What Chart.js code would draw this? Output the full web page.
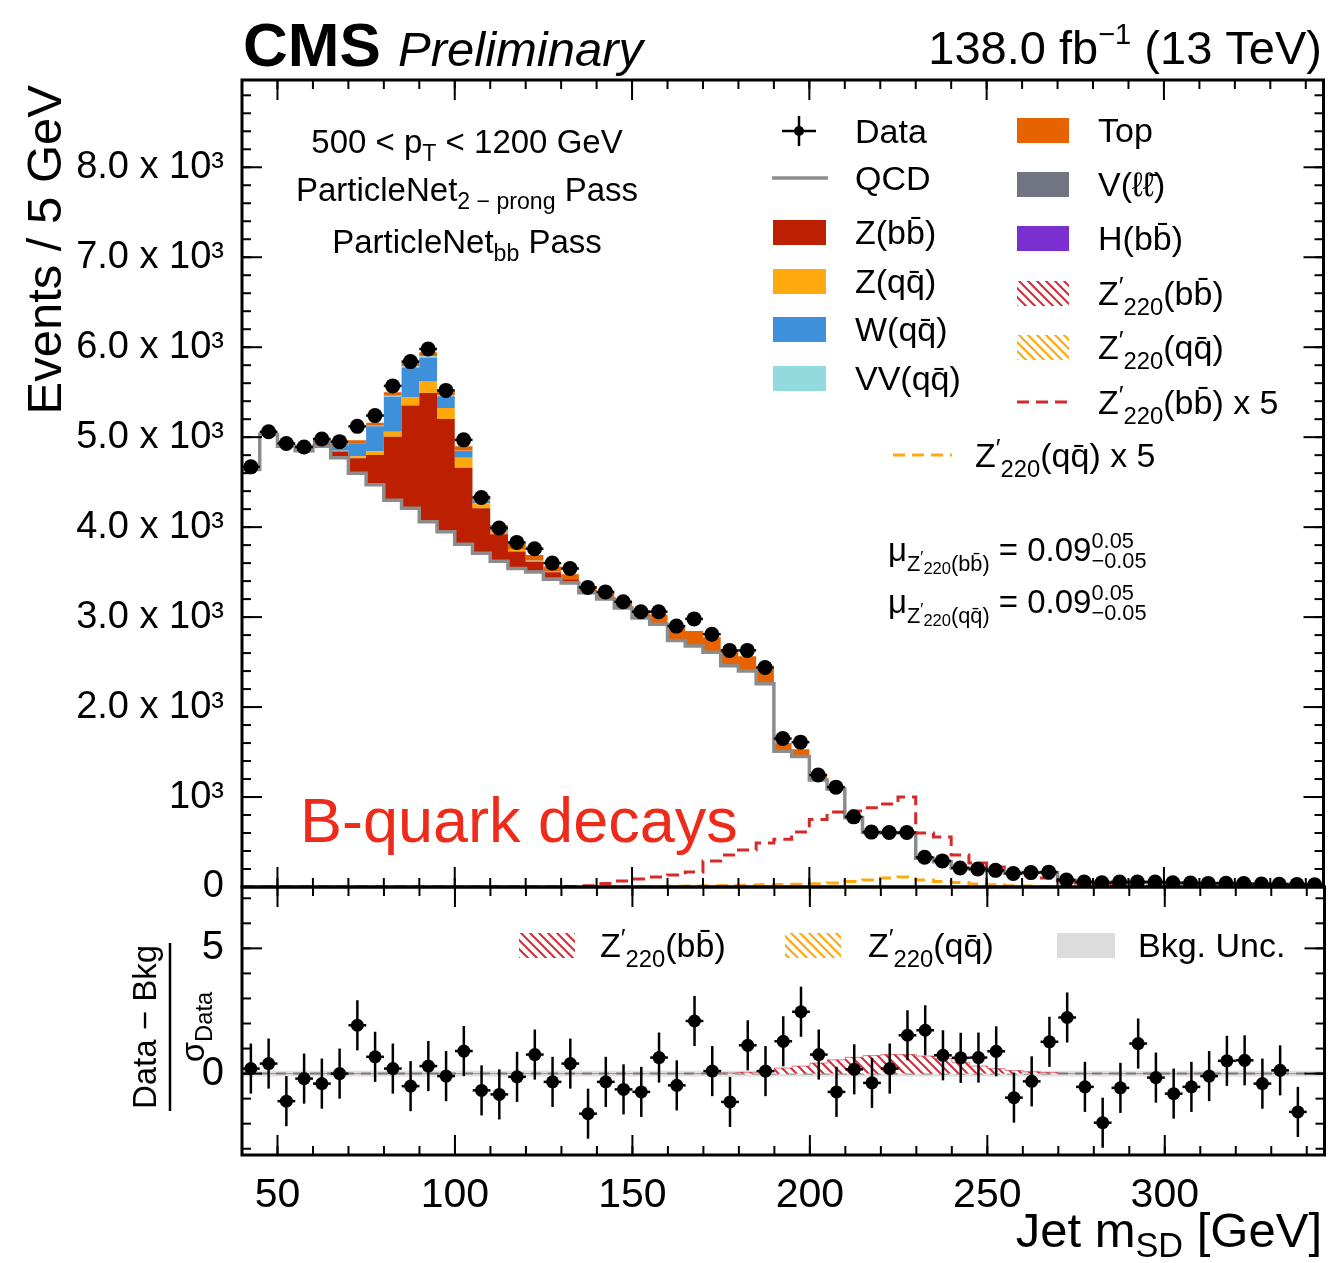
<!DOCTYPE html>
<html><head><meta charset="utf-8">
<script src="https://cdn.jsdelivr.net/npm/chart.js@4.4.1/dist/chart.umd.min.js"></script>
<style>
html,body{margin:0;padding:0;background:#fff;}
#wrap{position:relative;width:1331px;height:1263px;overflow:hidden;background:#fff;}
canvas{position:absolute;left:0;}
#main{top:0;width:1331px;height:920px;}
#ratio{top:880px;width:1331px;height:383px;}
</style></head><body>
<div id="wrap"><canvas id="main" width="1331" height="920"></canvas><canvas id="ratio" width="1331" height="383"></canvas></div>
<script>
// ---------------- DATA ----------------
const BIN = 5;
const binLow = [40,45,50,55,60,65,70,75,80,85,90,95,100,105,110,115,120,125,130,135,140,145,150,155,160,165,170,175,180,185,190,195,200,205,210,215,220,225,230,235,240,245,250,255,260,265,270,275,280,285,290,295,300,305,310,315,320,325,330,335,340];
const dataCounts = [4670,5060,4930,4890,4980,4950,5120,5240,5570,5840, 5980,5520,4970,4330,3990,3830,3760,3600,3540,3330, 3280,3170,3060,3060,2900,2980,2810,2630,2630,2440, 1650,1610,1245,1110,780,610,605,605,330,290, 211,200,185,150,160,165,78,56,46,55, 56,55,46,44,40,42,38,33,31,27, 24];
const qcd = [4640,5030,4900,4850,4900,4770,4600,4470,4300,4210, 4060,3950,3810,3710,3620,3540,3500,3420,3380,3270, 3200,3100,2990,2920,2740,2680,2610,2460,2400,2260, 1510,1450,1190,1090,770,605,600,600,320,280, 212,200,185,155,160,160,75,57,52,52, 53,52,46,45,41,40,36,35,31,29, 26];
const vll = [0,0,0,0,0,0,0,0,5,8, 10,8,5,0,0,0,0,0,0,0, 0,0,0,0,0,0,0,0,0,0, 0,0,0,0,0,0,0,0,0,0, 0,0,0,0,0,0,0,0,0,0, 0,0,0,0,0,0,0,0,0,0, 0];
const hbb = [0,0,0,0,0,0,0,0,0,0, 0,0,0,0,0,8,15,18,12,6, 0,0,0,0,0,0,0,0,0,0, 0,0,0,0,0,0,0,0,0,0, 0,0,0,0,0,0,0,0,0,0, 0,0,0,0,0,0,0,0,0,0, 0];
const zbb = [0,0,5,10,20,70,167,333,700,1133, 1422,1244,844,500,300,180,100,60,30,15, 8,5,0,0,0,0,0,0,0,0, 0,0,0,0,0,0,0,0,0,0, 0,0,0,0,0,0,0,0,0,0, 0,0,0,0,0,0,0,0,0,0, 0];
const zqq = [0,0,0,0,5,10,20,40,55,90, 133,122,111,55,30,20,10,5,0,0, 0,0,0,0,0,0,0,0,0,0, 0,0,0,0,0,0,0,0,0,0, 0,0,0,0,0,0,0,0,0,0, 0,0,0,0,0,0,0,0,0,0, 0];
const wqq = [0,0,0,10,20,55,145,278,390,333, 260,130,75,30,15,10,5,0,0,0, 0,0,0,0,0,0,0,0,0,0, 0,0,0,0,0,0,0,0,0,0, 0,0,0,0,0,0,0,0,0,0, 0,0,0,0,0,0,0,0,0,0, 0];
const vvqq = [0,0,0,0,0,0,0,5,10,15, 15,10,5,0,0,0,0,0,0,0, 0,0,0,0,0,0,0,0,0,0, 0,0,0,0,0,0,0,0,0,0, 0,0,0,0,0,0,0,0,0,0, 0,0,0,0,0,0,0,0,0,0, 0];
const topq = [20,20,22,22,25,30,35,35,40,40, 45,50,50,55,60,60,60,60,55,55, 60,70,90,110,160,165,165,160,165,165, 90,80,50,30,20,15,12,10,8,6, 5,4,3,3,2,2,2,1,1,1, 1,1,1,1,1,1,1,1,1,1, 1];
const sigBBx5 = [0,0,0,0,0,0,0,0,0,0, 0,0,0,0,0,0,0,0,5,15, 40,67,89,111,133,167,289,356,410,489, 530,611,750,833,845,880,922,1000,600,556, 356,267,222,167,130,100,70,45,30,20, 12,8,5,4,3,3,2,2,1,1, 1];
const sigQQx5 = [0,0,0,0,0,0,0,0,0,0, 0,0,0,0,0,0,0,0,0,0, 3,4,5,6,8,10,13,16,20,25, 28,30,35,44,60,78,100,111,78,60, 50,33,25,15,10,6,4,3,2,1, 1,1,1,1,1,1,1,1,1,1, 1];
const pulls = [0.2,0.4,-1.1,-0.2,-0.4,0.0,1.93,0.67,0.2,-0.5, 0.3,-0.1,0.9,-0.67,-0.83,-0.13,0.76,-0.33,0.4,-1.6, -0.33,-0.63,-0.73,0.64,-0.47,2.1,0.1,-1.13,1.13,0.1, 1.29,2.47,0.76,-0.73,0.17,-0.37,0.2,1.53,1.73,0.73, 0.63,0.64,0.89,-0.96,-0.31,1.27,2.24,-0.53,-1.96,-0.57, 1.2,-0.16,-0.8,-0.53,-0.1,0.51,0.53,-0.4,0.13,-1.53, null];
const ratioSigBB = [0,0,0,0,0,0,0,0,0,0, 0,0,0,0,0,0,0,0,0,0, 0,0,0,0,0,0,0,0.02,0.05,0.1, 0.22,0.3,0.42,0.55,0.65,0.72,0.76,0.76,0.7,0.6, 0.45,0.3,0.2,0.12,0.07,0.04,0,0,0,0, 0,0,0,0,0,0,0,0,0,0, 0];
const mainYTicks = [0,1000,2000,3000,4000,5000,6000,7000,8000];
const ratioYTicks = [0,5];
const xTickLabels = [50,100,150,200,250,300];

// ---------------- HELPERS ----------------
const FF = "'Liberation Sans', Arial, Helvetica, sans-serif";
const C = {qcd:'#8c8c8c', zbb:'#bd1f01', zqq:'#ffa90e', wqq:'#3f90da', vv:'#92dadd', top:'#e76300', vll:'#717581', hbb:'#7b2fd0', sigbb:'#d42a2a', sigqq:'#ffa90e'};
function steps(vals){ const pts = binLow.map((x,i)=>({x:x, y:vals[i]})); pts.push({x:binLow[binLow.length-1]+BIN, y:vals[vals.length-1]}); return pts; }
function centers(vals){ const out=[]; binLow.forEach((x,i)=>{ if(vals[i]!==null && vals[i]!==undefined) out.push({x:x+BIN/2, y:vals[i]}); }); return out; }
function font(size, style){ return (style?style+' ':'') + size + 'px ' + FF; }
function measureParts(ctx, parts, base){
  let w=0;
  for(const p of parts){
    if(p.stack){ let m=0; for(const s of p.stack){ ctx.font=font(base*(s.k||1), s.style); m=Math.max(m, ctx.measureText(s.t).width);} w+=m; }
    else { ctx.font=font(base*(p.k||1), p.style); w+=ctx.measureText(p.t).width; }
    w += p.gap||0;
  }
  return w;
}
function drawRich(ctx, x, y, parts, base, align, color){
  ctx.save(); ctx.fillStyle=color||'#000'; ctx.textBaseline='alphabetic'; ctx.textAlign='left';
  const w=measureParts(ctx, parts, base);
  if(align==='right') x-=w; else if(align==='center') x-=w/2;
  for(const p of parts){
    if(p.stack){ let m=0; for(const s of p.stack){ ctx.font=font(base*(s.k||1), s.style); ctx.fillText(s.t, x, y+(s.dy||0)*base); m=Math.max(m, ctx.measureText(s.t).width);} x+=m; }
    else { ctx.font=font(base*(p.k||1), p.style); ctx.fillText(p.t, x, y+(p.dy||0)*base); x+=ctx.measureText(p.t).width; }
    x += p.gap||0;
  }
  ctx.restore(); return w;
}
const zp = tail => [{t:'Z'},{t:'′',k:0.75,dy:-0.3},{t:'220',k:0.7,dy:0.28},{t:tail}];
function makeHatch(color, lw){
  const c=document.createElement('canvas'); c.width=c.height=9; const g=c.getContext('2d');
  g.fillStyle='#fff'; g.fillRect(0,0,9,9);
  g.strokeStyle=color; g.lineWidth=lw||2;
  g.beginPath(); g.moveTo(-1,-1); g.lineTo(10,10); g.moveTo(-5,4); g.lineTo(5,14); g.moveTo(4,-5); g.lineTo(14,5); g.stroke();
  return document.createElement('canvas').getContext('2d').createPattern(c,'repeat');
}
const hatchRed = makeHatch('#d42a3a', 2);
const hatchOrange = makeHatch('#ffa90e', 2.2);
function line(ctx,x1,y1,x2,y2){ ctx.beginPath(); ctx.moveTo(x1,y1); ctx.lineTo(x2,y2); ctx.stroke(); }

// frame + inward ticks
const frameTicks = { id:'frameTicks', afterDraw(chart, args, o){
  const ctx=chart.ctx, a=chart.chartArea, xs=chart.scales.x, ys=chart.scales.y;
  ctx.save(); ctx.strokeStyle='#000'; ctx.lineWidth=2;
  function ticksX(step, len){ for(let k=Math.ceil(xs.min/step); k*step<=xs.max; k++){ const p=xs.getPixelForValue(k*step); if(p<=a.left+2||p>=a.right-2) continue; line(ctx,p,a.bottom,p,a.bottom-len); line(ctx,p,a.top,p,a.top+len);} }
  function ticksY(step, len){ for(let k=Math.ceil(ys.min/step); k*step<=ys.max; k++){ const p=ys.getPixelForValue(k*step); if(p<=a.top+2||p>=a.bottom-2) continue; line(ctx,a.left,p,a.left+len,p); line(ctx,a.right,p,a.right-len,p);} }
  ticksX(o.xMin, 9); ticksX(o.xMaj, 20); ticksY(o.yMin, 9); ticksY(o.yMaj, 20);
  ctx.lineWidth=3; ctx.strokeRect(a.left, a.top, a.right-a.left, a.bottom-a.top);
  ctx.restore();
}};
// error bars
const errBars = { id:'errBars', afterDatasetsDraw(chart){
  const ctx=chart.ctx, xs=chart.scales.x, ys=chart.scales.y;
  chart.data.datasets.forEach(ds=>{
    if(!ds.errMode) return;
    ctx.save(); ctx.strokeStyle='#000'; ctx.lineWidth=2.5;
    ds.data.forEach(p=>{
      const e = ds.errMode==='poisson' ? Math.sqrt(p.y) : 1;
      const px=xs.getPixelForValue(p.x), py=ys.getPixelForValue(p.y);
      line(ctx, px, ys.getPixelForValue(p.y-e), px, ys.getPixelForValue(p.y+e));
      line(ctx, xs.getPixelForValue(p.x-BIN/2), py, xs.getPixelForValue(p.x+BIN/2), py);
    });
    ctx.restore();
  });
}};
const yAfterFit = s => { s.width=242; s.paddingTop=0; s.paddingBottom=0; };

// ---------------- MAIN PANEL ----------------
const decorA = { id:'decorA', afterDraw(chart){
  const ctx=chart.ctx;
  drawRich(ctx, 243, 66, [{t:'CMS', style:'bold'}], 62);
  drawRich(ctx, 398, 66, [{t:'Preliminary', style:'italic'}], 49);
  drawRich(ctx, 1322, 64, [{t:'138.0 fb'},{t:'−1',k:0.62,dy:-0.42},{t:' (13 TeV)'}], 47, 'right');
  ctx.save(); ctx.translate(61, 85); ctx.rotate(-Math.PI/2); drawRich(ctx, 0, 0, [{t:'Events / 5 GeV'}], 49, 'right'); ctx.restore();
  drawRich(ctx, 467, 153, [{t:'500 < p'},{t:'T',k:0.7,dy:0.25},{t:' < 1200 GeV'}], 33, 'center');
  drawRich(ctx, 467, 201, [{t:'ParticleNet'},{t:'2 − prong',k:0.7,dy:0.25},{t:' Pass'}], 33, 'center');
  drawRich(ctx, 467, 253, [{t:'ParticleNet'},{t:'bb',k:0.7,dy:0.25},{t:' Pass'}], 33, 'center');
  // legend
  ctx.save();
  ctx.strokeStyle='#000'; ctx.lineWidth=2.5; line(ctx,799,116,799,146); line(ctx,782,131,816,131);
  ctx.fillStyle='#000'; ctx.beginPath(); ctx.arc(799,131,5,0,Math.PI*2); ctx.fill();
  ctx.strokeStyle=C.qcd; ctx.lineWidth=3.5; line(ctx,772,178,828,178);
  const boxes1=[[C.zbb,232],[C.zqq,281],[C.wqq,329],[C.vv,378]];
  boxes1.forEach(b=>{ ctx.fillStyle=b[0]; ctx.fillRect(773,b[1]-12,53,25); });
  const boxes2=[[C.top,130],[C.vll,184],[C.hbb,238]];
  boxes2.forEach(b=>{ ctx.fillStyle=b[0]; ctx.fillRect(1017,b[1]-12,52,25); });
  ctx.fillStyle=hatchRed; ctx.fillRect(1017,281,52,25);
  ctx.fillStyle=hatchOrange; ctx.fillRect(1017,335,52,25);
  ctx.setLineDash([12,7]); ctx.lineWidth=3;
  ctx.strokeStyle=C.sigbb; line(ctx,1017,402,1070,402);
  ctx.strokeStyle=C.sigqq; line(ctx,893,455,952,455);
  ctx.restore();
  const L1=855, L2=1098, fs=34;
  drawRich(ctx,L1,143,[{t:'Data'}],fs);
  drawRich(ctx,L1,190,[{t:'QCD'}],fs);
  drawRich(ctx,L1,244,[{t:'Z(bb\u0304)'}],fs);
  drawRich(ctx,L1,293,[{t:'Z(qq\u0304)'}],fs);
  drawRich(ctx,L1,341,[{t:'W(qq\u0304)'}],fs);
  drawRich(ctx,L1,390,[{t:'VV(qq\u0304)'}],fs);
  drawRich(ctx,L2,142,[{t:'Top'}],fs);
  drawRich(ctx,L2,196,[{t:'V(ℓℓ\u0304)'}],fs);
  drawRich(ctx,L2,250,[{t:'H(bb\u0304)'}],fs);
  drawRich(ctx,L2,305,zp('(bb\u0304)'),fs);
  drawRich(ctx,L2,359,zp('(qq\u0304)'),fs);
  drawRich(ctx,L2,414,zp('(bb\u0304) x 5'),fs);
  drawRich(ctx,975,467,zp('(qq\u0304) x 5'),fs);
  const mu = tail => [{t:'μ'},{t:'Z',k:0.66,dy:0.3},{t:'′',k:0.5,dy:0.05},{t:'220',k:0.5,dy:0.4},{t:'('+tail+')',k:0.66,dy:0.3},{t:' = 0.09'},{stack:[{t:'0.05',k:0.66,dy:-0.38},{t:'−0.05',k:0.66,dy:0.2}]}];
  drawRich(ctx, 888, 561, mu('bb\u0304'), 33);
  drawRich(ctx, 888, 613, mu('qq\u0304'), 33);
  drawRich(ctx, 300, 842, [{t:'B-quark decays'}], 63, 'left', '#ee2a1b');
}};

const bkgOrder = [
  ['QCD', qcd, C.qcd],
  ['V(ll)', vll, C.vll],
  ['H(bb)', hbb, C.hbb],
  ['Z(bb)', zbb, C.zbb],
  ['Z(qq)', zqq, C.zqq],
  ['W(qq)', wqq, C.wqq],
  ['VV(qq)', vvqq, C.vv],
  ['Top', topq, C.top]
];
const STEP = 'before';
const mainSets = [
  {label:'Data', data:centers(dataCounts), showLine:false, pointRadius:7.5, pointBackgroundColor:'#000', pointBorderColor:'#000', pointBorderWidth:0, stack:'d', errMode:'poisson'},
  {label:"Z'220(bb) x 5", data:steps(sigBBx5), stepped:STEP, borderColor:C.sigbb, borderDash:[12,7], borderWidth:3, pointRadius:0, fill:false, stack:'s1'},
  {label:"Z'220(qq) x 5", data:steps(sigQQx5), stepped:STEP, borderColor:C.sigqq, borderDash:[12,7], borderWidth:3, pointRadius:0, fill:false, stack:'s2'}
];
bkgOrder.forEach((b,i)=>{
  if(i===0) mainSets.push({label:b[0], data:steps(b[1]), stepped:STEP, borderColor:b[2], borderWidth:3.5, pointRadius:0, fill:false, stack:'bkg'});
  else mainSets.push({label:b[0], data:steps(b[1]), stepped:STEP, borderColor:'rgba(0,0,0,0)', borderWidth:1, backgroundColor:b[2], pointRadius:0, fill:'-1', stack:'bkg'});
});

new Chart(document.getElementById('main'), {
  type:'line',
  data:{datasets:mainSets},
  options:{
    responsive:false, animation:false, devicePixelRatio:1, events:[],
    layout:{padding:{top:80,left:0,right:6,bottom:33}},
    plugins:{legend:{display:false}, tooltip:{enabled:false}, frameTicks:{xMaj:50,xMin:10,yMaj:1000,yMin:200}},
    scales:{
      x:{type:'linear', min:40, max:345, display:false},
      y:{type:'linear', min:0, max:8970, stacked:true,
         grid:{display:false}, border:{display:false},
         afterFit:yAfterFit,
         afterBuildTicks: s => { s.ticks = mainYTicks.map(v=>({value:v})); },
         ticks:{font:{family:FF,size:38}, color:'#000', padding:10,
           callback: v => v===0 ? '0' : (v===1000 ? '10³' : (v/1000).toFixed(1)+' x 10³')}}
    }
  },
  plugins:[errBars, frameTicks, decorA]
});

// ---------------- RATIO PANEL ----------------
const zeroLine = { id:'zeroLine', beforeDatasetsDraw(chart){
  const ctx=chart.ctx, a=chart.chartArea, y0=chart.scales.y.getPixelForValue(0);
  ctx.save(); ctx.fillStyle='rgba(200,200,200,0.55)'; ctx.fillRect(a.left, y0-3, a.right-a.left, 6);
  ctx.strokeStyle='#9a9a9a'; ctx.lineWidth=2.5; ctx.setLineDash([10,7]); line(ctx,a.left,y0,a.right,y0); ctx.restore();
}};
const decorB = { id:'decorB', afterDraw(chart){
  const ctx=chart.ctx, oy=880, fs=34;
  ctx.save();
  ctx.fillStyle=hatchRed; ctx.fillRect(519,933-oy,56,25);
  ctx.fillStyle=hatchOrange; ctx.fillRect(785,933-oy,56,25);
  ctx.fillStyle='#dcdcdc'; ctx.fillRect(1057,933-oy,58,25);
  ctx.restore();
  drawRich(ctx,600,957-oy,zp('(bb\u0304)'),fs);
  drawRich(ctx,868,957-oy,zp('(qq\u0304)'),fs);
  drawRich(ctx,1138,957-oy,[{t:'Bkg. Unc.'}],fs);
  ctx.save(); ctx.translate(170, 1027-oy); ctx.rotate(-Math.PI/2);
  drawRich(ctx,0,-14,[{t:'Data − Bkg'}],33,'center');
  ctx.strokeStyle='#000'; ctx.lineWidth=2.5; line(ctx,-84,0,84,0);
  drawRich(ctx,0,34,[{t:'σ'},{t:'Data',k:0.72,dy:0.25}],33,'center');
  ctx.restore();
  drawRich(ctx,1322,1247-oy,[{t:'Jet m'},{t:'SD',k:0.7,dy:0.2},{t:' [GeV]'}],49,'right');
}};

new Chart(document.getElementById('ratio'), {
  type:'line',
  data:{datasets:[
    {label:'Data', data:centers(pulls), showLine:false, pointRadius:6.5, pointBackgroundColor:'#000', pointBorderColor:'#000', pointBorderWidth:0, errMode:'unit'},
    {label:"Z'220(bb)", data:steps(ratioSigBB), stepped:STEP, borderColor:'rgba(212,42,58,0.6)', borderWidth:1, backgroundColor:hatchRed, pointRadius:0, fill:{value:0}}
  ]},
  options:{
    responsive:false, animation:false, devicePixelRatio:1, events:[],
    layout:{padding:{top:7,left:0,right:6,bottom:0}},
    plugins:{legend:{display:false}, tooltip:{enabled:false}, frameTicks:{xMaj:50,xMin:10,yMaj:5,yMin:1}},
    scales:{
      x:{type:'linear', min:40, max:345,
         grid:{display:false}, border:{display:false},
         afterFit: s => { s.height=108; s.paddingLeft=0; s.paddingRight=0; },
         afterBuildTicks: s => { s.ticks = xTickLabels.map(v=>({value:v})); },
         ticks:{font:{family:FF,size:41}, color:'#000', padding:8, maxRotation:0, autoSkip:false}},
      y:{type:'linear', min:-3.25, max:7.45,
         grid:{display:false}, border:{display:false},
         afterFit:yAfterFit,
         afterBuildTicks: s => { s.ticks = ratioYTicks.map(v=>({value:v})); },
         ticks:{font:{family:FF,size:40}, color:'#000', padding:10}}
    }
  },
  plugins:[zeroLine, errBars, frameTicks, decorB]
});
</script>
</body></html>
